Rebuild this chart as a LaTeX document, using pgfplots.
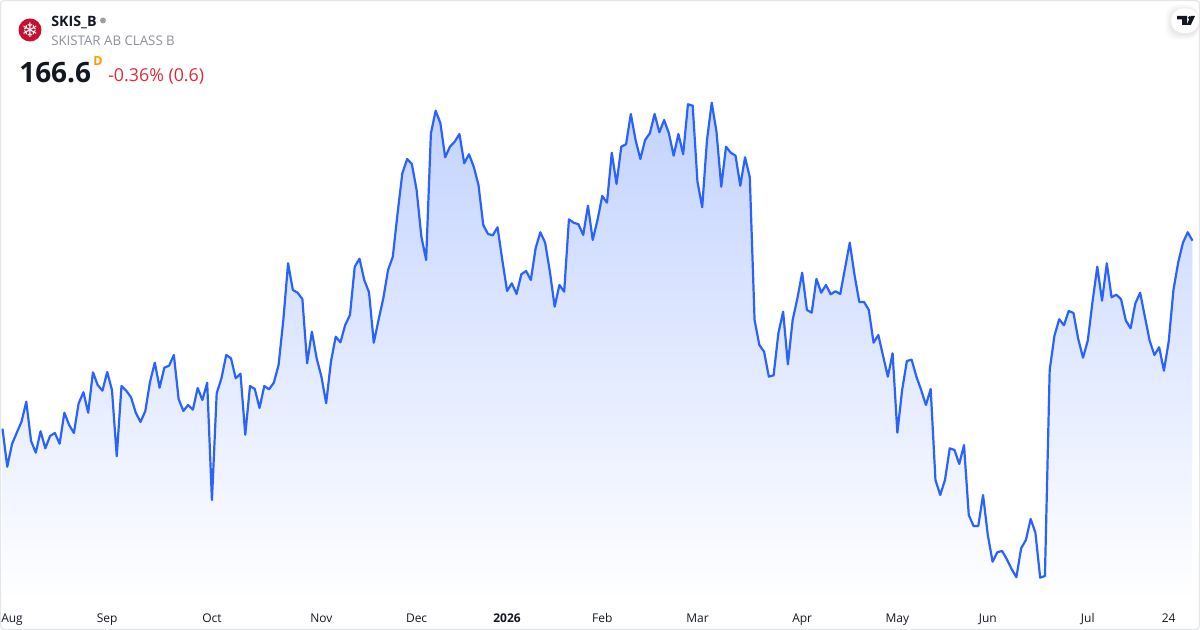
\documentclass[border=0pt]{standalone}
\usepackage{pgfplots}
\usepackage{pgfplotstable}
\usepackage{fontspec}
\pgfplotsset{compat=1.18}
\setmainfont{Open Sans}
\newfontfamily\symfont{DejaVu Sans}
\definecolor{tvline}{HTML}{2962FF}
\definecolor{tvtop}{HTML}{C3D3FF}
\definecolor{tvtext}{HTML}{131722}
\definecolor{tvgrey}{HTML}{8C8F99}
\definecolor{tvred}{HTML}{E0283C}
\definecolor{tvorange}{HTML}{FF9800}
\definecolor{tvlogo}{HTML}{C8102E}
\definecolor{tvborder}{HTML}{E3E5EA}
% i = trading-day index; h = height of the price line above the pane's bottom edge
\pgfplotstableread{
i h
0 171.3
1 133.3
2 156
3 167.3
4 178.3
5 198.3
6 159
7 147.3
8 168.7
9 151.7
10 164
11 167
12 156.3
13 187.3
14 175
15 167
16 196.7
17 207.7
18 187.3
19 227.7
20 215
21 209.3
22 228
23 210
24 143.7
25 214
26 209.3
27 202.7
28 187.3
29 178
30 189
31 218.3
32 237.3
33 212.3
34 232.3
35 234.3
36 245
37 201
38 189
39 195
40 190.3
41 212
42 200
43 217.3
44 100
45 206.7
46 221.7
47 245
48 241.7
49 221.7
50 226.3
51 165.3
52 214
53 211
54 192
55 214
56 210.7
57 217.3
58 235
59 280
60 336.7
61 310
62 307.3
63 301
64 236.7
65 268.3
66 241.7
67 223.3
68 196.7
69 238.3
70 263.3
71 257.7
72 275
73 285
74 333.3
75 341.3
76 320
77 307.7
78 257.3
79 280
80 301.7
81 330
82 343.3
83 386.7
84 426.7
85 441
86 436
87 410
88 363.3
89 340
90 466.7
91 489.3
92 476.7
93 442.7
94 453.3
95 458.3
96 466
97 436.7
98 445.7
99 433.3
100 415
101 375
102 366
103 364.7
104 372.7
105 340
106 309
107 316.7
108 306
109 325.7
110 329
111 320
112 351.7
113 367.7
114 357.3
115 328.3
116 293.3
117 315
118 308.3
119 380.7
120 377.3
121 375.7
122 365
123 394.3
124 360
125 380
126 404
127 397.3
128 447.3
129 416
130 453.3
131 455.7
132 486
133 460
134 441
135 460
136 466.7
137 486
138 467.7
139 480
140 466.7
141 444.3
142 466
143 445.7
144 495.7
145 494.3
146 418.3
147 392.7
148 460
149 497.3
150 468.3
151 413.3
152 453.3
153 447.3
154 444.3
155 414.3
156 442.7
157 422.7
158 280
159 255
160 248.3
161 223.3
162 224.7
163 266.7
164 288.3
165 235.7
166 280
167 301.7
168 327.3
169 290
170 287.3
171 321
172 307.3
173 315
174 305.7
175 308.7
176 306
177 331.7
178 357.3
179 325
180 298
181 298
182 290
183 257.3
184 265
185 244
186 223.3
187 246.7
188 167.3
189 210
190 239
191 240.3
192 223.3
193 210
194 195
195 211
196 120
197 105
198 120
199 151.7
200 150
201 136
202 155
203 85
204 74
205 74
206 105
207 65
208 38.3
209 47.7
210 49
211 40.7
212 31
213 22.7
214 51.7
215 60
216 81
217 67.3
218 22.3
219 24
220 230
221 264.3
222 280.7
223 274.7
224 289
225 287
226 261
227 242.3
228 259.3
229 298.3
230 333.3
231 299.3
232 336.7
233 302.7
234 305.3
235 300.7
236 279.3
237 271.7
238 296.7
239 307.3
240 283.3
241 259.3
242 245
243 252.7
244 229.3
245 258.3
246 310
247 337.7
248 357.3
249 367.7
250 359.3
}\pricedata
\begin{document}
\begin{tikzpicture}
\path[use as bounding box] (0,0) rectangle (900pt,472.5pt);
\begin{axis}[
  at={(0,0)}, anchor=south west,
  scale only axis, width=900pt, height=472.5pt,
  xmin=-0.525, xmax=251.58, ymin=-30, ymax=600,
  axis line style={draw=none},
  ymajorticks=false,
  xtick={2,22,44,67,87,106,126,146,168,188,207,228,245},
  xticklabels={Aug,Sep,Oct,Nov,Dec,\textbf{2026},Feb,Mar,Apr,May,Jun,Jul,24},
  major tick length=0pt,
  xticklabel style={font=\fontsize{9}{11}\selectfont, text=tvtext, anchor=base, yshift=5.3pt},
  clip=false,
]
\addplot[shade, top color=tvtop, bottom color=white, draw=none] table[x=i,y=h] {\pricedata} \closedcycle;
\addplot[tvline, line width=1.65pt, line join=round, no marks] table[x=i,y=h] {\pricedata};
\end{axis}
\begin{scope}[shift={(0,472.5pt)}, x=0.75pt, y=-0.75pt]
  \draw[tvborder, line width=0.9pt, rounded corners=3pt] (0.5,0.5) rectangle (1199.5,629.5);
  % logo
  \fill[tvlogo] (30,30) circle (11.5);
  \node[text=white, font=\symfont\fontsize{15}{15}\selectfont, inner sep=0] at (30,30) {❄};
  % header text
  \node[anchor=base west, inner sep=0, text=tvtext, font=\fontsize{10.7}{12}\selectfont\bfseries] at (51,27) {SKIS\_B};
  \fill[gray!75] (103,20.5) circle (3);
  \node[anchor=base west, inner sep=0, text=tvgrey, font=\fontsize{9.95}{11}\selectfont] at (51,45.5) {SKISTAR AB CLASS B};
  \node[anchor=base west, inner sep=0, text=tvtext, font=\fontsize{21}{25}\selectfont\bfseries] at (19,83) {166.6};
  \node[anchor=base west, inner sep=0, text=tvorange, font=\fontsize{9.4}{10}\selectfont\bfseries] at (93,66) {D};
  \node[anchor=base west, inner sep=0, text=tvred, font=\fontsize{13.35}{15}\selectfont] at (108,81.5) {-0.36\% (0.6)};
  % watermark pill
  \foreach \o/\g in {0.012/6,0.018/4.5,0.022/3,0.028/1.5}{
    \fill[black, opacity=\o, rounded corners=9pt] (1171-\g,8.5-\g+1.5) -- (1199,8.5-\g+1.5) -- (1199,33+\g+1.5) -- (1171-\g,33+\g+1.5) -- cycle;
  }
  \fill[white, rounded corners=9pt] (1171,8.5) -- (1199,8.5) -- (1199,33) -- (1171,33) -- cycle;
  \fill[tvtext] (1177,16) -- (1187,16) -- (1187,25) -- (1182,25) -- (1182,19.5) -- (1177,19.5) -- cycle;
  \fill[tvtext] (1189.6,17.8) circle (1.8);
  \fill[tvtext] (1190.8,16) -- (1195,16) -- (1190.8,25) -- (1186.6,25) -- cycle;
\end{scope}
\end{tikzpicture}
\end{document}
